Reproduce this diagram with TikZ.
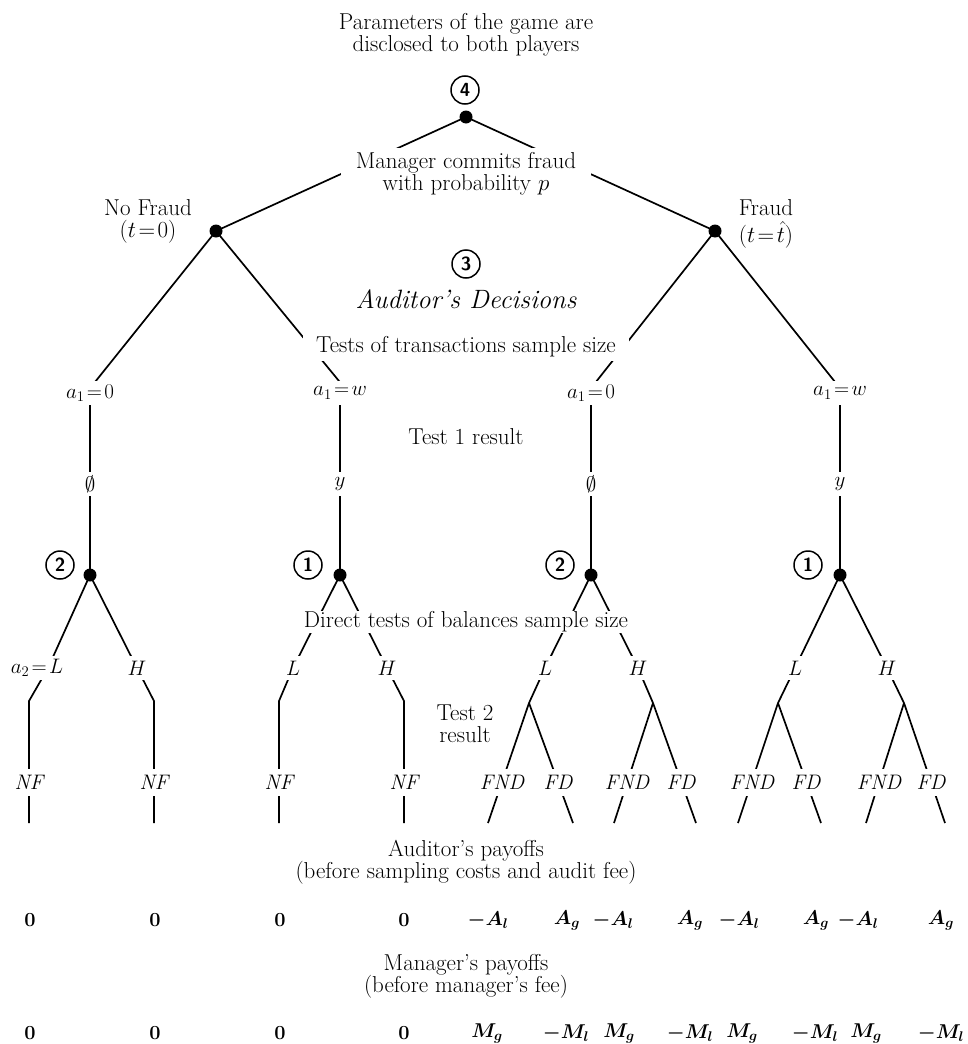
\RequirePackage{fix-cm}
\documentclass[tikz,border=0pt]{standalone}
\usepackage{amsmath,amssymb,bm}
\usetikzlibrary{backgrounds}
\begin{document}
\begin{tikzpicture}[x=1pt,y=-1pt,
  every node/.style={font=\fontsize{23}{22}\selectfont},
  edge/.style={line width=1.7pt},
  dot/.style={circle,fill=black,inner sep=0pt,minimum size=13pt},
  num/.style={circle,draw,line width=1.5pt,inner sep=0pt,minimum size=28pt,font=\fontsize{19}{19}\selectfont\sffamily\bfseries},
  lab/.style={fill=white,inner sep=1pt,minimum height=24pt,font=\fontsize{21}{22}\selectfont},
  leaf/.style={fill=white,inner sep=1pt,minimum height=27pt,font=\fontsize{21}{22}\selectfont\itshape},
  txt/.style={align=center},
  pay/.style={font=\fontsize{20}{20}\selectfont}
]
\useasboundingbox (0,0) rectangle (968,1044);

% ---------- top ----------
\node[txt] (params) at (466,35) {Parameters of the game are\\disclosed to both players};
\node[num] (c4) at (465,90) {4};
\node[dot] (root) at (466,117) {};
\node[txt,fill=white,inner xsep=15pt,inner ysep=5pt] (mgr) at (466,174) {Manager commits fraud\\with probability $p$};
\node[dot] (dNF) at (216,231) {};
\node[dot] (dF) at (715,231) {};
\node[txt] (lNF) at (148,221) {No Fraud\\($t\!=\!0$)};
\node (lF1) at (766,208) {Fraud};
\node (lF2) at (766,235) {($t\!=\!\hat t$)};
\node[num] (c3) at (466,264) {3};
\node[font=\fontsize{26.5}{26}\selectfont\itshape] (ad) at (466,299) {Auditor's Decisions};
\node[fill=white,inner xsep=13pt,inner ysep=4pt] (tt) at (466,347) {Tests of transactions sample size};

% ---------- test 1 ----------
\node[lab] (a1a) at (90,393) {$a_1\!=\!0$};
\node[lab] (a1b) at (340,393) {$a_1\!=\!w$};
\node[lab] (a1c) at (591,393) {$a_1\!=\!0$};
\node[lab] (a1d) at (840,393) {$a_1\!=\!w$};
\coordinate (pa) at (87,392);
\coordinate (pb) at (348,392);
\coordinate (pc) at (588,392);
\coordinate (pd) at (843,392);
\node (t1r) at (466,437) {Test 1 result};
\node[lab] (ea) at (90,484) {$\emptyset$};
\node[lab] (eb) at (340,484) {$y$};
\node[lab] (ec) at (591,484) {$\emptyset$};
\node[lab] (ed) at (840,484) {$y$};

% ---------- second decision ----------
\node[dot] (d2a) at (90,575) {};
\node[dot] (d2b) at (340,575) {};
\node[dot] (d2c) at (591,575) {};
\node[dot] (d2d) at (840,575) {};
\node[num] (n2a) at (60,565) {2};
\node[num] (n1b) at (308,565) {1};
\node[num] (n2c) at (560,565) {2};
\node[num] (n1d) at (808,565) {1};
\node[fill=white,inner xsep=2pt,inner ysep=1pt] (dt) at (466,622) {Direct tests of balances sample size};

% L / H labels
\node[lab] (la) at (37,668) {$a_2\!=\!L$};
\coordinate (pla) at (48,668);
\node[lab] (ha) at (137,668) {$H$};
\node[lab] (lb) at (293,668) {$L$};
\node[lab] (hb) at (387,668) {$H$};
\node[lab] (lc) at (545,668) {$L$};
\node[lab] (hc) at (638,668) {$H$};
\node[lab] (ld) at (795,668) {$L$};
\node[lab] (hd) at (887,668) {$H$};

% kinks / branch points
\coordinate (ka) at (29,701);
\coordinate (kb) at (154,701);
\coordinate (kc) at (279,701);
\coordinate (kd) at (404,701);
\coordinate (bc1) at (529,703);
\coordinate (bc2) at (653,703);
\coordinate (bd1) at (778,703);
\coordinate (bd2) at (904,703);

\node[txt] (t2r) at (465,724) {Test 2\\result};

% leaf labels
\node[leaf] (nf1) at (29,782) {NF};
\node[leaf] (nf2) at (154,782) {NF};
\node[leaf] (nf3) at (279,782) {NF};
\node[leaf] (nf4) at (404,782) {NF};
\node[leaf] (f1) at (502,782) {FND};
\node[leaf] (f2) at (558,782) {FD};
\node[leaf] (f3) at (627,782) {FND};
\node[leaf] (f4) at (681,782) {FD};
\node[leaf] (f5) at (752,782) {FND};
\node[leaf] (f6) at (806,782) {FD};
\node[leaf] (f7) at (879,782) {FND};
\node[leaf] (f8) at (931,782) {FD};

% leaf ends
\coordinate (e1) at (29,823);
\coordinate (e2) at (154,823);
\coordinate (e3) at (279,823);
\coordinate (e4) at (404,823);
\coordinate (e5) at (488,823);
\coordinate (e6) at (573,823);
\coordinate (e7) at (614,823);
\coordinate (e8) at (696,823);
\coordinate (e9) at (738,823);
\coordinate (e10) at (821,823);
\coordinate (e11) at (866,823);
\coordinate (e12) at (945,823);

% ---------- payoffs ----------
\node[txt] (aph) at (466,862) {Auditor's payoffs\\(before sampling costs and audit fee)};
\node[pay] (ap1) at (30,920) {\textbf{0}};
\node[pay] (ap2) at (155,920) {\textbf{0}};
\node[pay] (ap3) at (280,920) {\textbf{0}};
\node[pay] (ap4) at (404,920) {\textbf{0}};
\node[pay] (ap5) at (488,920) {$\bm{-A_l}$};
\node[pay] (ap6) at (567,920) {$\bm{A_g}$};
\node[pay] (ap7) at (613,920) {$\bm{-A_l}$};
\node[pay] (ap8) at (690,920) {$\bm{A_g}$};
\node[pay] (ap9) at (739,920) {$\bm{-A_l}$};
\node[pay] (ap10) at (816,920) {$\bm{A_g}$};
\node[pay] (ap11) at (858,920) {$\bm{-A_l}$};
\node[pay] (ap12) at (941,920) {$\bm{A_g}$};

\node[txt] (mph) at (466,976) {Manager's payoffs\\(before manager's fee)};
\node[pay] (mp1) at (30,1033) {\textbf{0}};
\node[pay] (mp2) at (155,1033) {\textbf{0}};
\node[pay] (mp3) at (280,1033) {\textbf{0}};
\node[pay] (mp4) at (404,1033) {\textbf{0}};
\node[pay] (mp5) at (487,1033) {$\bm{M_g}$};
\node[pay] (mp6) at (566,1033) {$\bm{-M_l}$};
\node[pay] (mp7) at (619,1033) {$\bm{M_g}$};
\node[pay] (mp8) at (690,1033) {$\bm{-M_l}$};
\node[pay] (mp9) at (742,1033) {$\bm{M_g}$};
\node[pay] (mp10) at (815,1033) {$\bm{-M_l}$};
\node[pay] (mp11) at (866,1033) {$\bm{M_g}$};
\node[pay] (mp12) at (941,1033) {$\bm{-M_l}$};

% ---------- connectors ----------
\begin{scope}[on background layer]
\draw[edge] (root.center) -- (dNF.center);
\draw[edge] (root.center) -- (dF.center);
\draw[edge] (dNF.center) -- (pa) -- (a1a.center) -- (ea.center) -- (d2a.center);
\draw[edge] (dNF.center) -- (pb) -- (a1b.center) -- (eb.center) -- (d2b.center);
\draw[edge] (dF.center) -- (pc) -- (a1c.center) -- (ec.center) -- (d2c.center);
\draw[edge] (dF.center) -- (pd) -- (a1d.center) -- (ed.center) -- (d2d.center);
% subtree 1
\draw[edge] (d2a.center) -- (pla) -- (ka) -- (nf1.center) -- (e1);
\draw[edge] (d2a.center) -- (ha.center) -- (kb) -- (nf2.center) -- (e2);
% subtree 2
\draw[edge] (d2b.center) -- (lb.center) -- (kc) -- (nf3.center) -- (e3);
\draw[edge] (d2b.center) -- (hb.center) -- (kd) -- (nf4.center) -- (e4);
% subtree 3
\draw[edge] (d2c.center) -- (lc.center) -- (bc1);
\draw[edge] (bc1) -- (e5);
\draw[edge] (bc1) -- (e6);
\draw[edge] (d2c.center) -- (hc.center) -- (bc2);
\draw[edge] (bc2) -- (e7);
\draw[edge] (bc2) -- (e8);
% subtree 4
\draw[edge] (d2d.center) -- (ld.center) -- (bd1);
\draw[edge] (bd1) -- (e9);
\draw[edge] (bd1) -- (e10);
\draw[edge] (d2d.center) -- (hd.center) -- (bd2);
\draw[edge] (bd2) -- (e11);
\draw[edge] (bd2) -- (e12);
\end{scope}
\end{tikzpicture}
\end{document}
